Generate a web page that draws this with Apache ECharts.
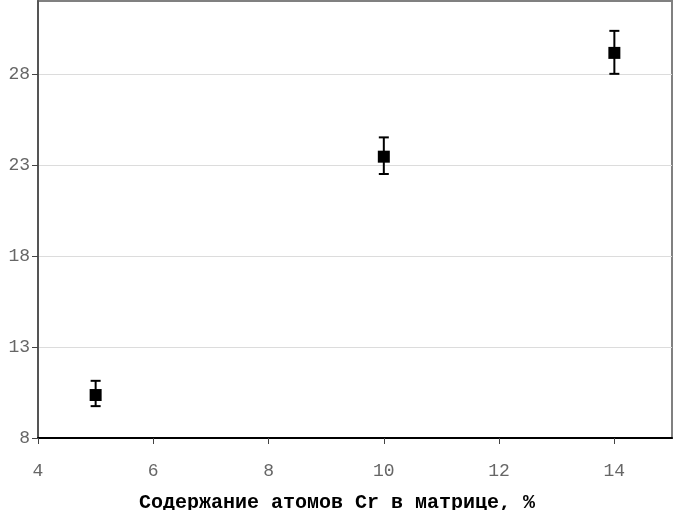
<!DOCTYPE html>
<html><head><meta charset="utf-8">
<script src="https://cdn.jsdelivr.net/npm/echarts@6/dist/echarts.min.js"></script>
<style>html,body{margin:0;padding:0;background:#fff}#c{width:674px;height:510px}</style>
</head><body><div id="c"></div>
<script>
const xValues = [5, 10, 14];
const yValues = [10.36, 23.45, 29.15];
const yLow = [9.75, 22.5, 28.0];
const yHigh = [11.14, 24.51, 30.36];
const xTicks = [4, 6, 8, 10, 12, 14];
const yTicks = [8, 13, 18, 23, 28];
const xTitle = 'Содержание атомов Cr в матрице, %';

const chart = echarts.init(document.getElementById('c'), null, {renderer: 'canvas'});
const font = 'Liberation Mono';
chart.setOption({
  animation: false,
  backgroundColor: '#ffffff',
  title: {
    text: xTitle, left: 'center', top: 488,
    textStyle: {fontFamily: font, fontWeight: 'bold', fontSize: 20, color: '#000'}
  },
  grid: {left: 38, right: 2, top: 1, bottom: 72, show: true, borderColor: '#808080', borderWidth: 2, backgroundColor: '#fff'},
  xAxis: {
    type: 'value', min: 4, max: 15,
    axisLine: {show: true, onZero: false, lineStyle: {color: '#000', width: 2}},
    axisTick: {show: true, length: 6, customValues: xTicks, lineStyle: {color: '#444'}},
    axisLabel: {customValues: xTicks, fontFamily: font, fontSize: 18, color: '#666', margin: 24},
    splitLine: {show: false}
  },
  yAxis: {
    type: 'value', min: 8, max: 32,
    axisLine: {show: true, onZero: false, lineStyle: {color: '#555', width: 2}},
    axisTick: {show: true, length: 6, customValues: yTicks, lineStyle: {color: '#444'}},
    axisLabel: {customValues: yTicks, fontFamily: font, fontSize: 18, color: '#666', margin: 8},
    splitLine: {show: true, lineStyle: {color: '#dcdcdc', width: 1}}
  },
  series: [
    {
      type: 'custom',
      data: xValues.map((x, i) => [x, yLow[i], yHigh[i]]),
      renderItem: function (params, api) {
        const x = api.value(0);
        const lo = api.coord([x, api.value(1)]);
        const hi = api.coord([x, api.value(2)]);
        const hw = 5;
        const st = {stroke: '#000', lineWidth: 2};
        return {type: 'group', children: [
          {type: 'line', shape: {x1: lo[0], y1: lo[1], x2: hi[0], y2: hi[1]}, style: st},
          {type: 'line', shape: {x1: lo[0]-hw, y1: lo[1], x2: lo[0]+hw, y2: lo[1]}, style: st},
          {type: 'line', shape: {x1: hi[0]-hw, y1: hi[1], x2: hi[0]+hw, y2: hi[1]}, style: st}
        ]};
      },
      z: 2
    },
    {
      type: 'scatter',
      data: xValues.map((x, i) => [x, yValues[i]]),
      symbol: 'rect', symbolSize: 12,
      itemStyle: {color: '#000', opacity: 1},
      z: 3
    }
  ]
});
</script></body></html>
